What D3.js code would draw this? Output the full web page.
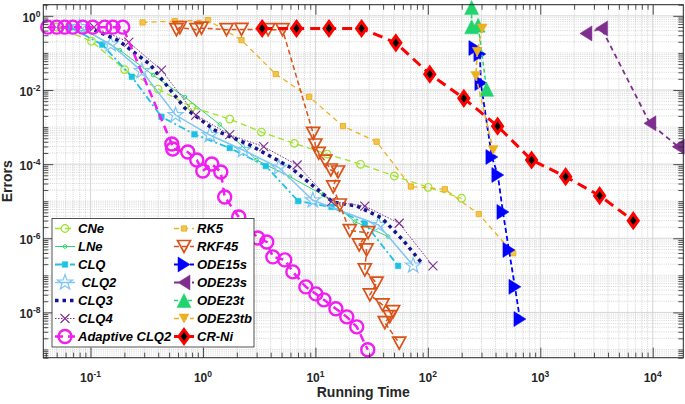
<!DOCTYPE html>
<html><head><meta charset="utf-8">
<script src="https://cdn.jsdelivr.net/npm/d3@7"></script>
<style>
body{margin:0;background:#fff}
svg{display:block}
text{font-family:"Liberation Sans",Arial,Helvetica,sans-serif}
</style>
</head><body>
<svg id="chart" width="685" height="404"></svg>
<script>
// ---------------- data (running time, error) ----------------
const cneTime  = [0.05,0.102,0.201,0.399,0.795,1.73,3.31,6.49,12.7,25.2,50.3,100.7,199.5];
const cneError = [0.5,0.208,0.0355,0.0106,0.00346,0.00164,7.34e-4,3.64e-4,1.87e-4,9.9e-5,4.79e-5,2.37e-5,1.2e-5];

const lneTime  = [0.0461,0.0925,0.182,0.36,0.689,1.41,2.99,5.92,11.7,22.4,44.4];
const lneError = [0.496,0.387,0.119,0.0252,0.00644,1.17e-3,1.29e-4,4.58e-5,1.47e-5,2.81e-6,1.11e-6];

const clqTime  = [0.0653,0.127,0.233,0.427,0.840,1.73,3.62,7.02,13.9,27.5,54.4];
const clqError = [0.496,0.1675,0.0227,1.9e-3,6.37e-4,2.72e-4,8.9e-5,1.01e-5,7.0e-6,2.54e-6,1.8e-7];

const clq2Time  = [0.080,0.151,0.286,0.570,1.15,2.27,4.72,9.48,36.4,74.0];
const clq2Error = [0.496,0.171,0.0323,2.11e-3,6.09e-4,2.4e-4,8.1e-5,1.06e-5,2.29e-6,1.83e-7];

const clq3Time  = [0.0944,0.175,0.336,0.689,1.27,2.61,5.92,14.3,23.4,38.9,59.9,86.7];
const clq3Error = [0.496,0.221,0.0499,3.26e-3,8.3e-4,3.28e-4,8.36e-5,9.5e-6,7.4e-6,3.53e-6,9.0e-7,2.3e-7];

const clq4Time  = [0.1074,0.219,0.427,0.863,1.73,3.47,6.88,13.9,27.5,55.6,111];
const clq4Error = [0.496,0.1955,0.0344,2.11e-3,6.21e-4,2.95e-4,9.47e-5,9.7e-6,7.4e-6,2.54e-6,1.8e-7];

const aclq2Time  = [0.0416,0.05,0.0589,0.0695,0.0853,0.1047,0.1337,0.158,0.1934,0.528,0.538,0.732,0.881,0.996,1.197,1.44,1.56,2.08,3.07,3.69,4.18,5.34,6.30,8.22,10.1,11.9,15.2,19.0,23.3,29.2];
const aclq2Error = [0.496,0.496,0.496,0.496,0.496,0.496,0.496,0.496,0.496,3.48e-4,2.56e-4,2.12e-4,1.29e-4,6.53e-5,1.01e-4,6.14e-5,1.3e-5,3.76e-6,1.02e-6,7.96e-7,3.14e-7,2.61e-7,1.24e-7,4.88e-8,3.16e-8,2.18e-8,1.25e-8,7.58e-9,4.08e-9,9.8e-10];

const rk5Time  = [0.290,0.561,1.11,2.20,4.44,8.79,17.6,35.0,70.6,141.6,284,574];
const rk5Error = [0.664,0.72,0.766,0.221,0.0268,0.00656,0.00106,4.02e-4,2.49e-5,2.1e-5,4.5e-6,3.95e-7];

const rkf45Time  = [0.581,0.622,0.876,0.970,1.62,2.20,3.80,5.10,9.54,9.98,10.7,12.25,13.7,15.9,14.4,16.5,20.2,29.4,24.5,28.5,27.5,35.0,30.5,39.5,49.1,45.9,41.4,55.6];
const rkf45Error = [0.425,0.481,0.425,0.466,0.425,0.43,0.425,0.425,6.77e-4,3.28e-4,1.96e-4,1.21e-4,6.94e-5,6.14e-5,2.42e-5,7.9e-6,1.61e-6,1.42e-6,6.6e-7,4.85e-7,1.4e-7,6.14e-8,2.97e-8,1.6e-8,1.05e-8,7.7e-9,5.3e-9,1.48e-9];

const ode15sTime  = [262,290,296,371,419,465,526,595,659];
const ode15sError = [0.135,0.0929,0.0154,1.56e-4,5.09e-5,5.13e-6,4.85e-7,4.89e-8,6.6e-9];

const ode23sTime  = [2545,3510,9440,16870];
const ode23sError = [0.336,0.457,1.26e-3,2.95e-4];

const ode23tTime  = [245,245,280,333];
const ode23tError = [1.68,0.505,0.562,0.0104];

const ode23tbTime  = [304,275,267,381];
const ode23tbError = [0.457,0.107,0.0237,2.4e-4];

const crniTime  = [3.36,6.79,13.2,25.7,51.9,104,209,417,837,1680,3370,6710];
const crniError = [0.457,0.457,0.457,0.457,0.187,0.0268,0.00595,0.00106,1.29e-4,4.58e-5,1.41e-5,2.99e-6];

const seriesNames = ["CNe","LNe","CLQ"," CLQ2","CLQ3","CLQ4","Adaptive CLQ2","RK5","RKF45","ODE15s","ODE23s","ODE23t","ODE23tb","CR-Ni"];
const xTickValues = [0.1,1,10,100,1000,10000];
const xTickExps   = ["-1","0","1","2","3","4"];
const yTickValues = [1,1e-2,1e-4,1e-6,1e-8];
const yTickExps   = ["0","-2","-4","-6","-8"];

// ---------------- styles ----------------
const styles = [
 {color:"#9fe22a", dash:"6,4",     width:1.3, marker:"circle", w:3.8, h:3.8, fill:"none", ms:1.2},
 {color:"#2fd66e", dash:null,      width:1.0, marker:"circle", w:1.8, h:1.8, fill:"none", ms:1.0},
 {color:"#1cc2e3", dash:"7,3,2,3", width:1.8, marker:"square", w:2.8, h:2.8, fill:"#1cc2e3", ms:0.5},
 {color:"#7ec6f4", dash:null,      width:1.5, marker:"star",   w:8,   h:8,   fill:"none", ms:1.2},
 {color:"#14148f", dash:"3.5,4",   width:3.5, marker:null},
 {color:"#7e2f8e", dash:"1.5,1.5", width:1.0, marker:"x",      w:4.5, h:4.5, fill:"none", ms:1.1},
 {color:"#f01ef0", dash:"8,5",     width:2.5, marker:"circle", w:6.5, h:6.5, fill:"none", ms:2.4},
 {color:"#edb120", dash:"5,4",     width:1.3, marker:"square", w:2.6, h:2.6, fill:"#f2c451", ms:1.0},
 {color:"#d95319", dash:"5,3",     width:1.5, marker:"tri-down", w:6.5, h:6, fill:"none", ms:1.7},
 {color:"#0000ff", dash:"5,3",     width:1.8, marker:"tri-right", w:6, h:7.5, fill:"#0000ff", ms:0.5},
 {color:"#7e2f8e", dash:"5,4",     width:1.8, marker:"tri-left", w:6, h:7.5, fill:"#7e2f8e", ms:0.5},
 {color:"#20d46e", dash:"4,3",     width:1.5, marker:"tri-up", w:7, h:7, fill:"#20d46e", ms:0.5},
 {color:"#edb120", dash:"5,3",     width:1.5, marker:"tri-down", w:5, h:4.5, fill:"#edb120", ms:0.5},
 {color:"#ff0000", dash:"10,6",    width:3.0, marker:"diamond", w:5, h:7, fill:"#000", ms:3, mstroke:"#ff0000"}
];
const dataPairs = [
 [cneTime,cneError],[lneTime,lneError],[clqTime,clqError],[clq2Time,clq2Error],
 [clq3Time,clq3Error],[clq4Time,clq4Error],[aclq2Time,aclq2Error],[rk5Time,rk5Error],
 [rkf45Time,rkf45Error],[ode15sTime,ode15sError],[ode23sTime,ode23sError],
 [ode23tTime,ode23tError],[ode23tbTime,ode23tbError],[crniTime,crniError]
];
const series = seriesNames.map((n,i)=>({name:n, pts:dataPairs[i][0].map((t,j)=>[t,dataPairs[i][1][j]]), ...styles[i]}));

// ---------------- chart ----------------
const L=43.3, R=683.3, T=4.7, B=357.7;
const x = d3.scaleLog().domain([0.038,18700]).range([L,R]);
const y = d3.scaleLog().domain([2,6e-10]).range([T,B]);
const svg = d3.select("#chart");

svg.append("rect").attr("x",L).attr("y",T).attr("width",R-L).attr("height",B-T).attr("fill","#fff");

// minor / major values
const xMinor=[], yMinor=[];
for(let n=-2;n<=4;n++) for(let k=2;k<=9;k++){const v=k*Math.pow(10,n); if(v>=0.038&&v<=18700) xMinor.push(v);}
for(let n=-10;n<=0;n++) for(let k=1;k<=9;k++){const v=k*Math.pow(10,n); if(v>=6e-10&&v<=2 && !(k===1 && n%2===0)) yMinor.push(v);}

const grid = svg.append("g");
grid.selectAll(".gxm").data(xMinor).join("line").attr("x1",d=>x(d)).attr("x2",d=>x(d)).attr("y1",T).attr("y2",B)
  .attr("stroke","#c2c2c2").attr("stroke-width",0.7).attr("stroke-dasharray","1,1.2");
grid.selectAll(".gym").data(yMinor).join("line").attr("y1",d=>y(d)).attr("y2",d=>y(d)).attr("x1",L).attr("x2",R)
  .attr("stroke","#c2c2c2").attr("stroke-width",0.7).attr("stroke-dasharray","1,1.2");
grid.selectAll(".gxM").data(xTickValues).join("line").attr("x1",d=>x(d)).attr("x2",d=>x(d)).attr("y1",T).attr("y2",B)
  .attr("stroke","#d6d6d6").attr("stroke-width",1);
grid.selectAll(".gyM").data(yTickValues).join("line").attr("y1",d=>y(d)).attr("y2",d=>y(d)).attr("x1",L).attr("x2",R)
  .attr("stroke","#d6d6d6").attr("stroke-width",1);

function markerPath(type,w,h){
  switch(type){
    case "circle": return `M${w},0A${w},${w} 0 1,1 ${-w},0A${w},${w} 0 1,1 ${w},0Z`;
    case "square": return `M${-w},${-h}H${w}V${h}H${-w}Z`;
    case "diamond": return `M0,${-h}L${w},0L0,${h}L${-w},0Z`;
    case "tri-up": return `M0,${-h}L${w},${h}L${-w},${h}Z`;
    case "tri-down": return `M${-w},${-h}L${w},${-h}L0,${h}Z`;
    case "tri-right": return `M${-w},${-h}L${w},0L${-w},${h}Z`;
    case "tri-left": return `M${w},${-h}L${-w},0L${w},${h}Z`;
    case "x": return `M${-w},${-h}L${w},${h}M${-w},${h}L${w},${-h}`;
    case "star": {
      let p=""; for(let i=0;i<10;i++){const r=i%2===0?w:w*0.4; const a=-Math.PI/2+i*Math.PI/5;
        p+=(i?"L":"M")+(r*Math.cos(a)).toFixed(2)+","+(r*Math.sin(a)).toFixed(2);} return p+"Z";}
  }
  return "";
}

const line = d3.line().x(d=>x(d[0])).y(d=>y(d[1]));
const plot = svg.append("g");
series.forEach(s=>{
  const g = plot.append("g");
  g.append("path").attr("d",line(s.pts)).attr("fill","none").attr("stroke",s.color)
   .attr("stroke-width",s.width).attr("stroke-dasharray",s.dash);
  if(s.marker){
    g.selectAll("path.m").data(s.pts).join("path").attr("class","m")
     .attr("transform",d=>`translate(${x(d[0])},${y(d[1])})`)
     .attr("d",markerPath(s.marker,s.w,s.h)).attr("fill",s.fill)
     .attr("stroke",s.mstroke||s.color).attr("stroke-width",s.ms).attr("stroke-linejoin","miter");
  }
});

// frame and ticks (inward)
const axCol="#262626";
function styleAxis(g){g.select(".domain").remove(); g.selectAll(".tick line").attr("stroke",axCol).attr("stroke-width",0.8);}
svg.append("g").attr("transform",`translate(0,${B})`).call(d3.axisBottom(x).tickValues(xTickValues).tickSize(-10).tickFormat("")).call(styleAxis);
svg.append("g").attr("transform",`translate(0,${B})`).call(d3.axisBottom(x).tickValues(xMinor).tickSize(-5).tickFormat("")).call(styleAxis);
svg.append("g").attr("transform",`translate(0,${T})`).call(d3.axisTop(x).tickValues(xTickValues).tickSize(-10).tickFormat("")).call(styleAxis);
svg.append("g").attr("transform",`translate(0,${T})`).call(d3.axisTop(x).tickValues(xMinor).tickSize(-5).tickFormat("")).call(styleAxis);
svg.append("g").attr("transform",`translate(${L},0)`).call(d3.axisLeft(y).tickValues(yTickValues).tickSize(-10).tickFormat("")).call(styleAxis);
svg.append("g").attr("transform",`translate(${L},0)`).call(d3.axisLeft(y).tickValues(yMinor).tickSize(-5).tickFormat("")).call(styleAxis);
svg.append("g").attr("transform",`translate(${R},0)`).call(d3.axisRight(y).tickValues(yTickValues).tickSize(-10).tickFormat("")).call(styleAxis);
svg.append("g").attr("transform",`translate(${R},0)`).call(d3.axisRight(y).tickValues(yMinor).tickSize(-5).tickFormat("")).call(styleAxis);
svg.append("rect").attr("x",L).attr("y",T).attr("width",R-L).attr("height",B-T).attr("fill","none").attr("stroke",axCol).attr("stroke-width",1);

// tick labels
xTickValues.forEach((v,i)=>{
  const t=svg.append("text").attr("x",x(v)).attr("y",381.5).attr("text-anchor","middle")
    .attr("font-size",12).attr("font-weight","bold").attr("fill",axCol);
  t.append("tspan").text("10");
  t.append("tspan").attr("dy",-5).attr("font-size",8.5).text(xTickExps[i]);
});
yTickValues.forEach((v,i)=>{
  const t=svg.append("text").attr("x",40.5).attr("y",y(v)+6).attr("text-anchor","end")
    .attr("font-size",12).attr("font-weight","bold").attr("fill",axCol);
  t.append("tspan").text("10");
  t.append("tspan").attr("dy",-5).attr("font-size",8.5).text(yTickExps[i]);
});

svg.append("text").attr("x",(L+R)/2).attr("y",397).attr("text-anchor","middle")
  .attr("font-size",14).attr("font-weight","bold").attr("fill",axCol).text("Running Time");
svg.append("text").attr("transform",`translate(12,${(T+B)/2}) rotate(-90)`).attr("text-anchor","middle")
  .attr("font-size",14).attr("font-weight","bold").attr("fill",axCol).text("Errors");

// legend
const lg = svg.append("g");
lg.append("rect").attr("x",52).attr("y",218.5).attr("width",202).attr("height",128.5)
  .attr("fill","#fff").attr("stroke",axCol).attr("stroke-width",0.8);
series.forEach((s,i)=>{
  const col = i<7?0:1, row=i%7;
  const x0 = col===0?55:174, yy = 228.5+row*18;
  const g = lg.append("g");
  g.append("line").attr("x1",x0).attr("x2",x0+20).attr("y1",yy).attr("y2",yy)
   .attr("stroke",s.color).attr("stroke-width",s.width).attr("stroke-dasharray",s.dash);
  if(s.marker){
    g.append("path").attr("transform",`translate(${x0+10},${yy})`).attr("d",markerPath(s.marker,s.w,s.h))
     .attr("fill",s.fill).attr("stroke",s.mstroke||s.color).attr("stroke-width",s.ms);
  }
  g.append("text").attr("x",x0+23).attr("y",yy+4.5).attr("font-size",13).attr("font-weight","bold")
   .attr("font-style","italic").attr("fill","#000").style("white-space","pre").text(s.name);
});
</script>
</body></html>
